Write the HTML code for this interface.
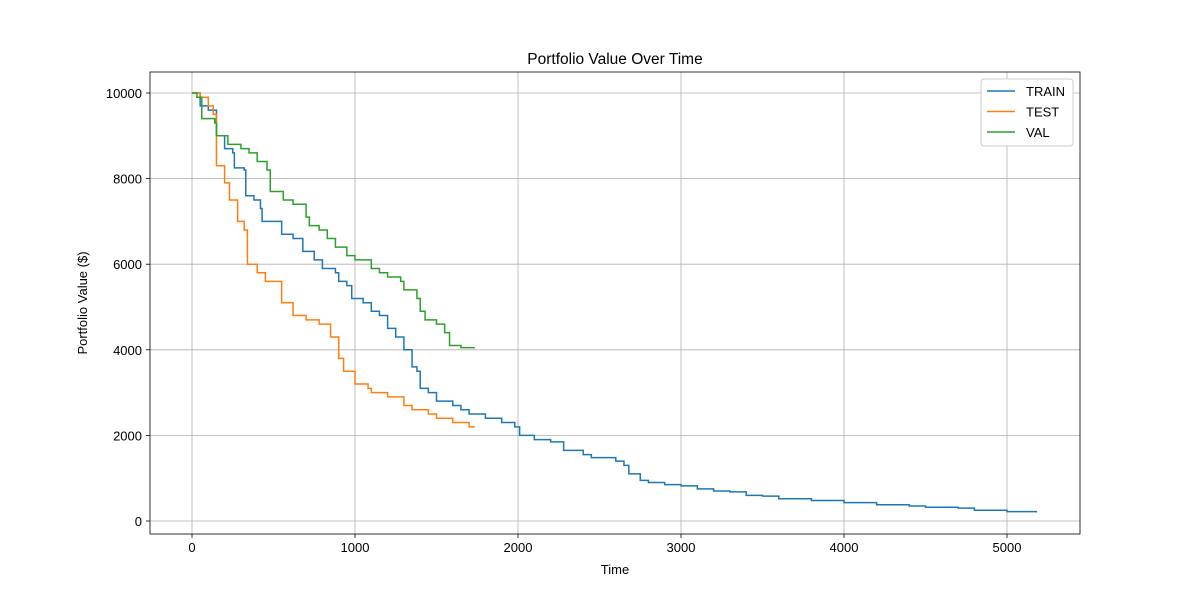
<!DOCTYPE html>
<html><head><meta charset="utf-8"><style>
body{margin:0;background:#fff;font-family:"Liberation Sans","DejaVu Sans",sans-serif}
</style></head><body>
<svg id="chart" width="1200" height="600" xmlns="http://www.w3.org/2000/svg"></svg>
<script>
const trainT=[0,30,50,100,150,200,250,260,320,330,380,420,430,500,550,620,680,750,800,880,900,950,980,1050,1100,1150,1200,1250,1300,1350,1380,1400,1450,1500,1600,1650,1700,1800,1900,1980,2010,2100,2200,2280,2400,2450,2600,2650,2680,2750,2800,2900,3000,3100,3200,3300,3400,3500,3600,3800,4000,4200,4400,4500,4700,4800,5000,5180];
const trainV=[10000,10000,9700,9600,9000,8700,8600,8250,8200,7600,7500,7300,7000,7000,6700,6600,6300,6100,5900,5800,5600,5500,5200,5100,4900,4800,4500,4300,4000,3600,3500,3100,3000,2800,2700,2600,2500,2400,2300,2200,2000,1900,1850,1650,1550,1480,1400,1300,1100,950,900,850,820,750,700,680,600,580,520,480,430,380,350,320,300,250,220,200];
const testT=[0,50,100,130,150,200,230,280,320,340,400,450,550,620,700,780,850,900,930,1000,1080,1100,1200,1300,1350,1450,1500,1600,1700,1730];
const testV=[10000,9900,9700,9500,8300,7900,7500,7000,6800,6000,5800,5600,5100,4800,4700,4600,4300,3800,3500,3200,3100,3000,2900,2700,2600,2500,2400,2300,2200,2180];
const valT=[0,30,60,140,150,220,300,350,400,460,480,560,620,700,720,780,830,880,950,1000,1100,1150,1200,1280,1300,1380,1400,1430,1500,1550,1580,1650,1730];
const valV=[10000,9900,9400,9300,9000,8800,8700,8600,8400,8200,7700,7500,7400,7100,6900,6800,6600,6400,6200,6100,5900,5800,5700,5600,5400,5200,4900,4700,4600,4400,4100,4050,4030];
const xTicks=[0,1000,2000,3000,4000,5000];
const yTicks=[0,2000,4000,6000,8000,10000];
const NS="http://www.w3.org/2000/svg";
const svg=document.getElementById('chart');
const L=150,R=1080,T=72,B=534;
const xs=v=>192+v*0.163;
const ys=v=>521-v*0.0428;
function mk(tag,a,parent){const e=document.createElementNS(NS,tag);for(const k in a)e.setAttribute(k,a[k]);(parent||svg).appendChild(e);return e;}
const grid=mk('g',{});


xTicks.forEach(t=>{mk('line',{x1:xs(t),x2:xs(t),y1:T,y2:B,stroke:'#b0b0b0','stroke-width':0.8},grid);
 mk('line',{x1:xs(t),x2:xs(t),y1:B,y2:B+4,stroke:'#000','stroke-width':0.8});
 const tx=mk('text',{x:xs(t),y:B+18,'text-anchor':'middle','font-size':13});tx.textContent=t;
 
 });
yTicks.forEach(t=>{mk('line',{x1:L,x2:R,y1:ys(t),y2:ys(t),stroke:'#b0b0b0','stroke-width':0.8},grid);
 mk('line',{x1:L-4,x2:L,y1:ys(t),y2:ys(t),stroke:'#000','stroke-width':0.8});
 const tx=mk('text',{x:L-8,y:ys(t)+5,'text-anchor':'end','font-size':13});tx.textContent=t;
 
 });
function series(T_,V_,color,name){let d='M'+xs(T_[0])+','+ys(V_[0]);
 for(let i=1;i<T_.length;i++){d+=' L'+xs(T_[i])+','+ys(V_[i-1])+' L'+xs(T_[i])+','+ys(V_[i]);}
 const p=mk('path',{d:d,fill:'none',stroke:color,'stroke-width':1.5});
 
 }
series(trainT,trainV,'#1f77b4','train-line');
series(testT,testV,'#ff7f0e','test-line');
series(valT,valV,'#2ca02c','val-line');
mk('rect',{x:L,y:T,width:R-L,height:B-T,fill:'none',stroke:'#000','stroke-width':0.8});
let t=mk('text',{x:615,y:64,'text-anchor':'middle','font-size':15.5});t.textContent='Portfolio Value Over Time';

t=mk('text',{x:615,y:574,'text-anchor':'middle','font-size':13});t.textContent='Time';

t=mk('text',{x:87,y:303,'text-anchor':'middle','font-size':13,transform:'rotate(-90 87 303)'});t.textContent='Portfolio Value ($)';

const lg=mk('g',{});


mk('rect',{x:981,y:79,width:92,height:67,rx:3,fill:'#fff',stroke:'#ccc'},lg);
[['TRAIN','#1f77b4'],['TEST','#ff7f0e'],['VAL','#2ca02c']].forEach((s,i)=>{
 const y=91+i*20.5;
 mk('line',{x1:987,x2:1015,y1:y,y2:y,stroke:s[1],'stroke-width':1.5},lg);
 const e=mk('text',{x:1026,y:y+5,'font-size':13},lg);e.textContent=s[0];
 
 });
</script>
</body></html>
